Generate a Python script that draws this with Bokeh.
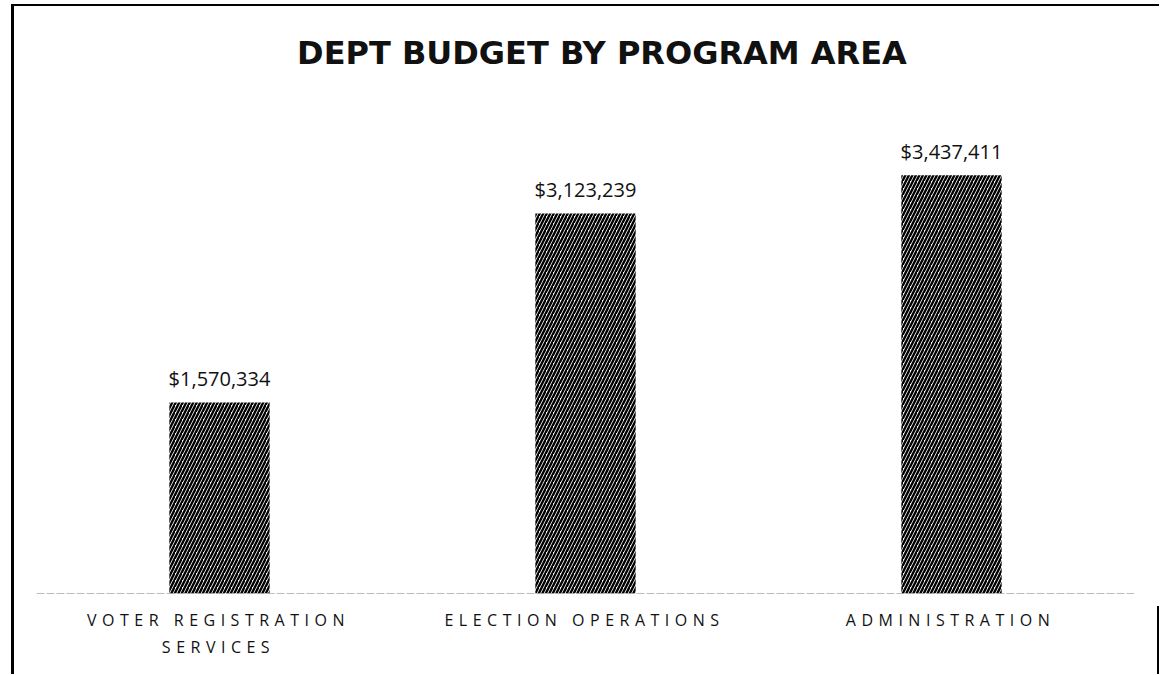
from bokeh.plotting import figure
from bokeh.layouts import column, row
from bokeh.models import FactorRange, Range1d, Span, Label, ColumnDataSource, Spacer
from bokeh.core.properties import value
from bokeh.embed import file_html
from bokeh.resources import INLINE

# ---- data ----
categories = ["VOTER REGISTRATION SERVICES", "ELECTION OPERATIONS", "ADMINISTRATION"]
display_labels = ["VOTER REGISTRATION\nSERVICES", "ELECTION OPERATIONS", "ADMINISTRATION"]
budgets = [1570334, 3123239, 3437411]
title_text = "DEPT BUDGET BY PROGRAM AREA"

value_labels = ["${:,}".format(v) for v in budgets]

FONT = "Open Sans"
LETTER_SPACING = 5.5

# layout geometry (pixels)
FRAME_H = 585          # frame height of the main figure
PX_PER_4M = 485        # pixels for 4,000,000
Y_END = 4000000 * FRAME_H / PX_PER_4M

x_range = FactorRange(factors=categories, range_padding=0)

src = ColumnDataSource(dict(cat=categories, val=budgets, lab=value_labels))

# ---- main figure ----
p = figure(
    x_range=x_range, y_range=Range1d(0, Y_END),
    width=1148, height=2 + FRAME_H + 15, output_backend="svg", toolbar_location=None,
    min_border_left=22, min_border_right=28, min_border_top=0, min_border_bottom=15,
)
p.styles = {"border-top": "2px solid #000000", "border-left": "3px solid #000000"}
p.xaxis.visible = False
p.yaxis.visible = False
p.xgrid.visible = False
p.ygrid.visible = False
p.outline_line_color = None
p.background_fill_color = "white"
p.border_fill_color = "white"

p.vbar(x="cat", top="val", width=0.274, source=src,
       fill_color="white", line_color=None,
       hatch_pattern="right_diagonal_line", hatch_color="black",
       hatch_scale=7, hatch_weight=2.4)

p.add_layout(Span(location=0, dimension="width", line_color="#7a7a7a",
                  line_width=1, line_dash="8 2"))

p.text(x="cat", y="val", text="lab", source=src,
       text_align="center", text_baseline="alphabetic", y_offset=-24,
       text_font=value(FONT), text_font_size="20px", text_color="#111111")

title_y = (593 - 54) * 4000000 / PX_PER_4M
p.add_layout(Label(x=1.545, y=title_y, text=title_text,
                   text_align="center", text_baseline="middle",
                   text_font="DejaVu Sans", text_font_size="32px",
                   text_font_style="bold", text_color="#111111"))

# ---- category labels strip (letter-spaced) ----
STRIP_H = 68
q = figure(
    x_range=x_range, y_range=Range1d(0, STRIP_H),
    width=1148, height=STRIP_H, output_backend="svg", toolbar_location=None,
    min_border_left=22, min_border_right=26, min_border_top=0, min_border_bottom=0,
)
q.styles = {"border-left": "3px solid #000000", "border-right": "2px solid #000000",
            "letter-spacing": "%.1fpx" % LETTER_SPACING}
q.xaxis.visible = False
q.yaxis.visible = False
q.xgrid.visible = False
q.ygrid.visible = False
q.outline_line_color = None
q.background_fill_color = "white"
q.border_fill_color = "white"

# one text row per printed line; offsets re-centre the letter-spaced text
lx, ltxt, ly, loff = [], [], [], []
for cat, lab in zip(categories, display_labels):
    for i, line in enumerate(lab.split("\n")):
        lx.append(cat)
        ltxt.append(line)
        ly.append(STRIP_H - 2 - 27 * i)
        loff.append(-len(line) * LETTER_SPACING / 2 - 1)
lsrc = ColumnDataSource(dict(cat=lx, lab=ltxt, y=ly, xo=loff))
q.text(x="cat", y="y", text="lab", x_offset="xo", source=lsrc,
       text_align="center", text_baseline="top",
       text_font=value(FONT), text_font_size="16px", text_color="#111111")

layout = column(Spacer(height=4),
                row(Spacer(width=11), column(p, q, spacing=0), spacing=0),
                spacing=0)

open("out.html", "w").write(file_html(layout, INLINE))
